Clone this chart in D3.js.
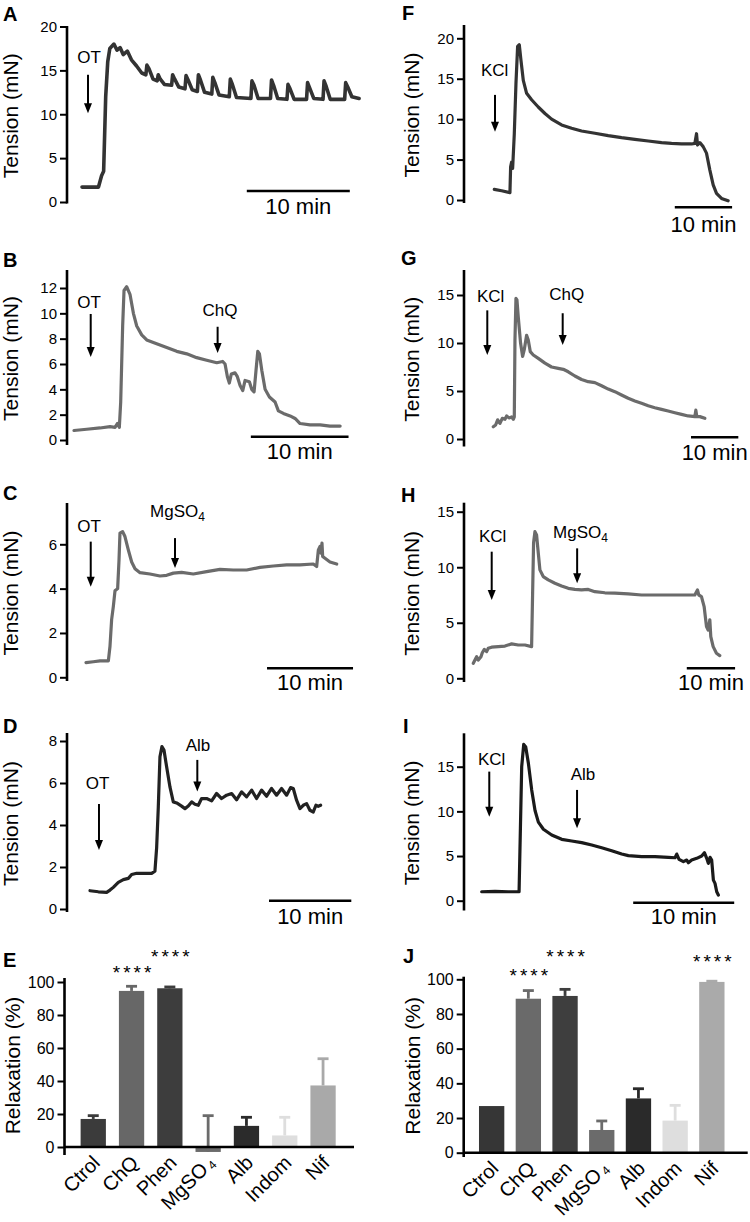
<!DOCTYPE html>
<html><head><meta charset="utf-8">
<script src="https://cdn.jsdelivr.net/npm/d3@7"></script>
<style>
body{margin:0;background:#fff;}
svg{display:block;}
</style></head><body>
<svg id="fig" width="750" height="1222"></svg>
<script>
// ---------------- DATA ----------------
// Traces: [time (min), tension (mN)]
const traceA = [
[0,1.7],[1.6,1.7],[1.9,3.0],[2.1,3.5],[2.3,12],[2.5,16],[2.7,17.5],[3.1,18],[3.4,17.3],[3.7,17.6],[4.0,16.8],[4.4,17.2],[4.8,16.2],[5.3,15.5],[5.8,14.7],[6.2,14.5],
[6.3,15.6],[6.5,15.2],[6.9,14.0],[7.3,13.8],
[7.4,14.5],[7.6,14.0],[8.0,13.4],[8.7,13.3],
[8.8,14.5],[9.0,14.0],[9.4,13.1],[10.0,12.9],
[10.1,14.4],[10.3,13.9],[10.7,12.8],[11.2,12.6],
[11.3,14.5],[11.5,13.9],[11.9,12.5],[12.6,12.3],
[12.7,14.2],[12.9,13.6],[13.3,12.2],[14.3,12.0],
[14.4,14.0],[14.6,13.4],[15.0,11.9],[16.4,11.8],
[16.5,13.8],[16.7,13.3],[17.1,11.8],[18.3,11.8],
[18.4,13.9],[18.6,13.3],[19.0,11.8],[19.9,11.7],
[20.0,13.4],[20.2,12.9],[20.6,11.7],[21.8,11.7],
[21.9,13.6],[22.1,13.0],[22.5,11.8],[23.4,11.7],
[23.5,13.8],[23.7,13.2],[24.1,11.7],[25.5,11.7],
[25.6,13.6],[25.8,13.1],[26.2,12.0],[26.9,11.8]
];
const traceB = [
[0,0.75],[1.3,0.85],[2.66,0.95],[3.69,1.05],[4.2,1.0],[4.44,1.3],[4.64,1.0],[4.78,3],[4.98,9],[5.12,11.8],[5.39,12.1],[5.73,11.5],[6.08,10],[6.42,9],[6.93,8.3],[7.44,7.9],[8.46,7.6],[9.49,7.3],[10.51,7.0],[11.54,6.8],[12.56,6.5],[13.58,6.3],[14.61,6.1],[15.22,6.2],[15.46,6.0],[15.7,5.0],[15.9,4.5],[16.1,5.2],[16.48,5.3],[16.72,5.0],[17.0,4.3],[17.27,3.9],[17.51,4.7],[17.95,4.6],[18.19,4.0],[18.43,3.8],[18.63,5.5],[18.81,7.0],[18.98,6.8],[19.22,5.5],[19.56,4.0],[20.0,3.4],[20.58,3.0],[20.92,2.3],[21.43,2.1],[22.12,1.9],[22.63,1.7],[23.14,1.3],[24.16,1.2],[25.19,1.2],[26.2,1.1],[27.24,1.1]
];
const traceC = [
[0,0.66],[0.85,0.7],[1.63,0.74],[2.6,0.74],[2.79,1.4],[2.98,2.6],[3.18,3.2],[3.37,3.9],[3.68,4.0],[3.84,5.3],[3.95,6.5],[4.26,6.57],[4.53,6.35],[4.92,5.75],[5.31,5.2],[5.7,4.9],[6.28,4.72],[7.44,4.66],[8.6,4.57],[9.38,4.6],[10.16,4.7],[11.12,4.73],[12.48,4.66],[14.03,4.77],[15.58,4.87],[17.13,4.84],[18.68,4.84],[20.23,4.96],[21.78,5.02],[23.33,5.07],[24.88,5.07],[26.43,5.11],[26.82,5.0],[27.02,5.75],[27.21,5.9],[27.33,5.6],[27.44,6.05],[27.52,5.45],[27.79,5.37],[28.37,5.2],[29.15,5.11]
];
const traceD = [
[0,0.87],[1.01,0.82],[2.02,0.79],[2.43,0.9],[2.83,1.03],[3.44,1.27],[4.05,1.4],[4.66,1.46],[5.06,1.64],[5.67,1.7],[6.48,1.7],[7.49,1.7],[7.89,1.8],[8.1,2.94],[8.3,4.86],[8.5,7.25],[8.74,7.73],[8.99,7.57],[9.31,6.77],[9.72,5.8],[10.12,5.1],[10.53,5.05],[11.13,4.9],[11.54,4.78],[11.94,4.9],[12.35,5.1],[12.75,4.99],[13.16,4.94],[13.56,5.26],[14.17,5.26],[14.78,5.15],[15.38,5.5],[15.99,5.26],[16.6,5.42],[17.21,5.5],[17.81,5.2],[18.42,5.58],[19.03,5.34],[19.64,5.66],[20.24,5.26],[20.85,5.66],[21.46,5.37],[22.06,5.74],[22.67,5.42],[23.28,5.74],[23.89,5.42],[24.37,5.78],[24.7,5.74],[25.1,5.18],[25.51,4.78],[25.91,4.94],[26.32,5.02],[26.72,4.7],[27.13,4.62],[27.45,4.94],[27.73,4.89],[28.02,4.94]
];
const traceF = [
[0,1.32],[1.28,1.15],[2.73,0.9],[2.85,4.1],[3.02,4.7],[3.2,3.9],[3.49,8.2],[3.78,14.4],[4.07,19.0],[4.36,19.2],[4.65,17.3],[5.06,14.8],[5.64,13.2],[6.51,12.4],[7.67,11.5],[8.84,10.7],[10.0,10.0],[11.74,9.28],[13.49,8.87],[15.23,8.54],[17.56,8.25],[19.88,7.96],[22.21,7.71],[24.53,7.5],[26.86,7.3],[29.19,7.1],[30.93,7.0],[32.67,6.93],[34.42,6.93],[35.0,7.0],[35.29,8.2],[35.47,6.8],[35.87,7.1],[36.45,6.6],[37.03,5.8],[37.62,3.7],[38.2,1.86],[38.78,0.82],[39.65,0.2],[40.81,-0.1]
];
const traceG = [
[0,1.28],[0.49,1.46],[0.92,2.0],[1.41,1.63],[1.9,2.15],[2.46,2.05],[2.82,2.4],[3.31,2.2],[3.87,2.3],[4.23,2.05],[4.44,2.3],[4.58,10.3],[4.79,14.65],[5.0,14.5],[5.28,12.7],[5.77,9.97],[6.2,8.6],[6.55,9.3],[7.04,10.8],[7.39,10.3],[7.82,9.1],[8.45,8.75],[9.51,8.4],[10.92,7.9],[12.32,7.5],[13.73,7.36],[14.79,7.26],[15.85,7.0],[17.25,6.56],[18.66,6.2],[20.07,5.97],[21.48,5.87],[22.89,5.55],[24.3,5.2],[25.7,4.93],[27.11,4.58],[28.52,4.24],[29.93,3.96],[31.34,3.72],[32.75,3.47],[34.15,3.26],[35.56,3.09],[36.97,2.92],[38.38,2.74],[39.79,2.57],[41.2,2.4],[42.61,2.33],[42.82,3.0],[43.03,2.33],[43.66,2.33],[44.72,2.15]
];
const traceH = [
[0,1.35],[0.34,1.65],[0.69,1.95],[1.03,1.65],[1.59,1.95],[1.86,2.3],[2.28,2.6],[2.76,2.4],[3.1,2.7],[3.79,2.8],[5.17,2.85],[6.55,2.9],[7.93,3.1],[9.31,3.0],[10.69,3.0],[12.07,2.85],[12.28,7.66],[12.48,12.2],[12.76,13.2],[13.1,12.9],[13.45,11.3],[13.79,9.76],[14.48,9.16],[15.52,8.86],[16.9,8.56],[18.28,8.32],[19.66,8.1],[21.03,8.0],[22.41,7.96],[23.79,8.0],[25.17,7.8],[27.24,7.7],[29.31,7.66],[32.07,7.6],[34.83,7.5],[37.59,7.5],[40.34,7.5],[43.1,7.5],[45.86,7.5],[46.41,7.96],[46.69,7.5],[47.24,7.36],[47.79,6.46],[48.28,4.65],[48.62,4.35],[48.97,5.26],[49.17,3.75],[49.66,2.85],[50.34,2.25],[51.03,2.04]
];
const traceI = [
[0,1.0],[1.32,1.05],[2.64,1.0],[3.7,1.0],[3.83,8],[3.96,15],[4.16,17.5],[4.36,17.2],[4.62,15.4],[4.95,12.4],[5.28,10.1],[5.61,8.8],[6.11,8.0],[6.93,7.35],[7.92,6.87],[8.91,6.68],[9.9,6.5],[10.89,6.23],[11.88,5.93],[12.87,5.6],[13.86,5.22],[14.52,5.04],[15.84,4.93],[17.16,4.93],[18.48,4.85],[19.14,4.81],[19.31,5.22],[19.54,4.63],[19.97,4.37],[20.3,4.55],[20.46,4.25],[20.79,4.55],[21.29,4.74],[21.78,5.0],[22.05,5.37],[22.28,4.74],[22.44,4.18],[22.61,4.85],[22.77,4.55],[22.94,2.3],[23.1,1.94],[23.27,1.0],[23.43,0.63]
];

// Y tick labels
const ticksA = [0,5,10,15,20];
const ticksB = [0,2,4,6,8,10,12];
const ticksC = [0,2,4,6];
const ticksD = [0,2,4,6,8];
const ticksF = [0,5,10,15,20];
const ticksG = [0,5,10,15];
const ticksH = [0,5,10,15];
const ticksI = [0,5,10,15];
const ticksRelax = [0,20,40,60,80,100];

// Drug additions: label, label time, arrow time, label level, arrow top & bottom (mN)
const drugsA = [{name:"OT", lt:0.68, at:0.58, lv:15.8, top:14.5, bot:10.1}];
const drugsB = [{name:"OT", lt:1.54, at:1.71, lv:10.4, top:9.95, bot:6.55},
                {name:"ChQ", lt:14.94, at:14.7, lv:9.8, top:8.94, bot:6.87}];
const drugsC = [{name:"OT", lt:0.35, at:0.55, lv:6.57, top:6.12, bot:4.09},
                {name:"MgSO", sub:"4", lt:10.64, at:10.35, lv:7.24, top:6.28, bot:4.93}];
const drugsD = [{name:"OT", lt:0.91, at:1.09, lv:5.71, top:5.0, bot:2.81},
                {name:"Alb", lt:13.12, at:13.04, lv:7.52, top:7.1, bot:5.59}];
const drugsF = [{name:"KCl", lt:0.07, at:0.12, lv:15.3, top:13.0, bot:8.45}];
const drugsG = [{name:"KCl", lt:-0.55, at:-1.27, lv:14.3, top:13.4, bot:8.75},
                {name:"ChQ", lt:15.52, at:14.67, lv:14.48, top:13.1, bot:9.79}];
const drugsH = [{name:"KCl", lt:4.02, at:3.81, lv:12.3, top:11.4, bot:7.05},
                {name:"MgSO", sub:"4", lt:22.2, at:21.5, lv:12.6, top:11.7, bot:8.56}];
const drugsI = [{name:"KCl", lt:0.99, at:0.75, lv:15.2, top:14.45, bot:9.4},
                {name:"Alb", lt:10.03, at:9.44, lv:13.5, top:12.4, bot:8.1}];

// Bar charts
const categories = ["Ctrol","ChQ","Phen","MgSO4","Alb","Indom","Nif"];
const meansE = [17, 94.6, 96.2, -3, 12.8, 7, 37.3];
const errE   = [2, 2.8, 0.8, 22, 5.2, 11, 16.2];
const meansJ = [26.9, 88.8, 90.4, 13.1, 31.3, 18.5, 98.5];
const errJ   = [0, 4.7, 3.8, 5.2, 5.6, 8.8, 0.4];
const colorsE = ["#3b3b3b","#676767","#3d3d3d","#6b6b6b","#2b2b2b","#dedede","#a9a9a9"];
const colorsJ = ["#363636","#6a6a6a","#3e3e3e","#6b6b6b","#2a2a2a","#dedede","#aaaaaa"];
const starsE = [{cat:"ChQ", v:102},{cat:"Phen", v:111.5}];
const starsJ = [{cat:"ChQ", v:98.5},{cat:"Phen", v:109.5},{cat:"Nif", v:106.5}];

// ---------------- LAYOUT ----------------
const FONT = '"Liberation Sans", Arial, Helvetica, sans-serif';
const svg = d3.select("#fig").attr("font-family", FONT);

const traceLayout = [
 {L:"A", lx:3, ly:21, data:traceA, ticks:ticksA, drugs:drugsA, axisX:67, y0:202, yTop:26.5, axisTop:26, axisBot:203.5, x0:82, px10:103, bar:16.0, barY:191, txtDy:23, color:"#333", w:3.6, titleX:17.5},
 {L:"B", lx:3, ly:267, data:traceB, ticks:ticksB, drugs:drugsB, axisX:67, y0:440, yTop:288, axisTop:270, axisBot:445, x0:74, px10:97.7, bar:18.1, barY:436.7, txtDy:22, color:"#6b6b6b", w:3.2, titleX:17.5},
 {L:"C", lx:3, ly:500, data:traceC, ticks:ticksC, drugs:drugsC, axisX:67, y0:677.3, yTop:544.3, axisTop:503, axisBot:681, x0:86, px10:86, bar:21.05, barY:668.3, txtDy:22, color:"#6b6b6b", w:3.2, titleX:17.5},
 {L:"D", lx:3, ly:733, data:traceD, ticks:ticksD, drugs:drugsD, axisX:67, y0:909, yTop:741, axisTop:733, axisBot:912, x0:90, px10:82.3, bar:21.75, barY:900.7, txtDy:23, color:"#222", w:3.2, titleX:17.5},
 {L:"F", lx:402, ly:20, data:traceF, ticks:ticksF, drugs:drugsF, axisX:464, y0:200, yTop:38.3, axisTop:25, axisBot:203, x0:494.3, px10:57.3, bar:31.5, barY:207.3, txtDy:25, color:"#333", w:3.2, titleX:418.5},
 {L:"G", lx:401, ly:265, data:traceG, ticks:ticksG, drugs:drugsG, axisX:464, y0:439, yTop:295, axisTop:270, axisBot:446.5, x0:493.3, px10:47.3, bar:41.8, barY:437.3, txtDy:23, color:"#6b6b6b", w:3.2, titleX:418.5},
 {L:"H", lx:401, ly:502, data:traceH, ticks:ticksH, drugs:drugsH, axisX:464, y0:678.3, yTop:511.7, axisTop:502.7, axisBot:682, x0:473.3, px10:48.3, bar:44.2, barY:668.3, txtDy:22, color:"#6b6b6b", w:3.2, titleX:418.5},
 {L:"I", lx:403, ly:733, data:traceI, ticks:ticksI, drugs:drugsI, axisX:464, y0:900.7, yTop:766.7, axisTop:733.3, axisBot:910.5, x0:481.7, px10:101, bar:15.0, barY:902.7, txtDy:21, color:"#1a1a1a", w:3.2, titleX:418.5}
];

function panelLetter(L, x, y){
  svg.append("text").attr("x",x).attr("y",y).attr("font-size",20).attr("font-weight","bold").attr("fill","#000").text(L);
}

function yAxis(g, y, ticks, axisX, axisTop, axisBot, fs){
  const ax = g.append("g").attr("transform",`translate(${axisX},0)`)
    .call(d3.axisLeft(y).tickValues(ticks).tickFormat(d3.format("d")).tickSize(7).tickPadding(3).tickSizeOuter(0));
  ax.attr("font-family", FONT).attr("font-size", fs);
  ax.select(".domain").remove();
  ax.selectAll(".tick line").attr("stroke","#000").attr("stroke-width",2);
  ax.selectAll(".tick text").attr("fill","#000");
  g.append("line").attr("x1",axisX).attr("x2",axisX).attr("y1",axisTop).attr("y2",axisBot)
    .attr("stroke","#000").attr("stroke-width",2.6);
}

function yTitle(g, text, x, yc){
  g.append("text").attr("transform",`translate(${x},${yc}) rotate(-90)`)
    .attr("text-anchor","middle").attr("font-size",21).attr("fill","#000").text(text);
}

traceLayout.forEach(c => {
  const g = svg.append("g");
  panelLetter(c.L, c.lx, c.ly);
  const y = d3.scaleLinear().domain([0, c.ticks[c.ticks.length-1]]).range([c.y0, c.yTop]);
  const x = d3.scaleLinear().domain([0, 10]).range([c.x0, c.x0 + c.px10]);
  yAxis(g, y, c.ticks, c.axisX, c.axisTop, c.axisBot, 15);
  yTitle(g, "Tension (mN)", c.titleX, (c.axisTop + c.axisBot)/2 + 1);
  // trace
  g.append("path").datum(c.data)
    .attr("d", d3.line().x(d => x(d[0])).y(d => y(d[1])))
    .attr("fill","none").attr("stroke",c.color).attr("stroke-width",c.w)
    .attr("stroke-linejoin","round").attr("stroke-linecap","round");
  // scale bar
  g.append("line").attr("x1",x(c.bar)).attr("x2",x(c.bar+10)).attr("y1",c.barY).attr("y2",c.barY)
    .attr("stroke","#000").attr("stroke-width",2.5);
  g.append("text").attr("x",(x(c.bar)+x(c.bar+10))/2).attr("y",c.barY + c.txtDy)
    .attr("text-anchor","middle").attr("font-size",22).attr("fill","#000").text("10 min");
  // drug annotations
  c.drugs.forEach(d => {
    const t = g.append("text").attr("x",x(d.lt)).attr("y",y(d.lv)).attr("text-anchor","middle")
      .attr("font-size",17).attr("fill","#000");
    t.append("tspan").text(d.name);
    if (d.sub) t.append("tspan").attr("font-size",12).attr("dy",4).text(d.sub);
    const ax = x(d.at), yt = y(d.top), yb = y(d.bot);
    g.append("line").attr("x1",ax).attr("x2",ax).attr("y1",yt).attr("y2",yb-8)
      .attr("stroke","#000").attr("stroke-width",2);
    g.append("path").attr("d",`M${ax-4},${yb-10}L${ax+4},${yb-10}L${ax},${yb}Z`).attr("fill","#000");
  });
});

// ---------------- BAR PANELS ----------------
const barLayout = [
 {L:"E", lx:3, ly:967, means:meansE, errs:errE, colors:colorsE, stars:starsE, axisX:64.5, y0:1147, y100:982, axisTop:978, axisBot:1155, xEnd:354, r0:74.1, r1:342.2, pi:0.34, titleX:19.5},
 {L:"J", lx:403, ly:963, means:meansJ, errs:errJ, colors:colorsJ, stars:starsJ, axisX:463.7, y0:1152.7, y100:979.3, axisTop:976.7, axisBot:1157, xEnd:747.7, r0:473.3, r1:730.2, pi:0.31, titleX:420}
];

barLayout.forEach(c => {
  const g = svg.append("g");
  panelLetter(c.L, c.lx, c.ly);
  const x = d3.scaleBand().domain(categories).range([c.r0, c.r1]).paddingInner(c.pi).paddingOuter(c.pi/2);
  const y = d3.scaleLinear().domain([0,100]).range([c.y0, c.y100]);
  const bw = x.bandwidth();
  categories.forEach((cat, i) => {
    const v = c.means[i], e = c.errs[i], col = c.colors[i];
    const cx = x(cat) + bw/2;
    g.append("rect").attr("x",x(cat)).attr("width",bw)
      .attr("y",y(Math.max(0,v))).attr("height",Math.abs(y(v)-y(0)))
      .attr("fill",col);
    if (e > 0) {
      g.append("line").attr("x1",cx).attr("x2",cx).attr("y1",y(v)).attr("y2",y(v+e))
        .attr("stroke",col).attr("stroke-width",2.8);
      g.append("line").attr("x1",cx-5.5).attr("x2",cx+5.5).attr("y1",y(v+e)).attr("y2",y(v+e))
        .attr("stroke",col).attr("stroke-width",2.8);
    }
    // category label
    const lab = g.append("text").attr("transform",`translate(${cx+8},${c.y0+17}) rotate(-45)`)
      .attr("text-anchor","end").attr("font-size",20).attr("fill","#000");
    if (cat === "MgSO4") {
      lab.append("tspan").text("MgSO");
      lab.append("tspan").attr("font-size",12).attr("dx",3).attr("dy",2).text("4");
    } else lab.text(cat);
  });
  // axes
  g.append("line").attr("x1",c.axisX).attr("x2",c.xEnd).attr("y1",y(0)).attr("y2",y(0))
    .attr("stroke","#000").attr("stroke-width",2.6);
  yAxis(g, y, ticksRelax, c.axisX, c.axisTop, c.axisBot, 16);
  yTitle(g, "Relaxation (%)", c.titleX, (c.axisTop + c.axisBot)/2 - 1);
  // significance stars
  c.stars.forEach(s => {
    g.append("text").attr("x", x(s.cat) + bw/2 + 2).attr("y", y(s.v))
      .attr("text-anchor","middle").attr("font-size",19).attr("letter-spacing",3)
      .attr("fill","#000").text("****");
  });
});
</script>
</body></html>
